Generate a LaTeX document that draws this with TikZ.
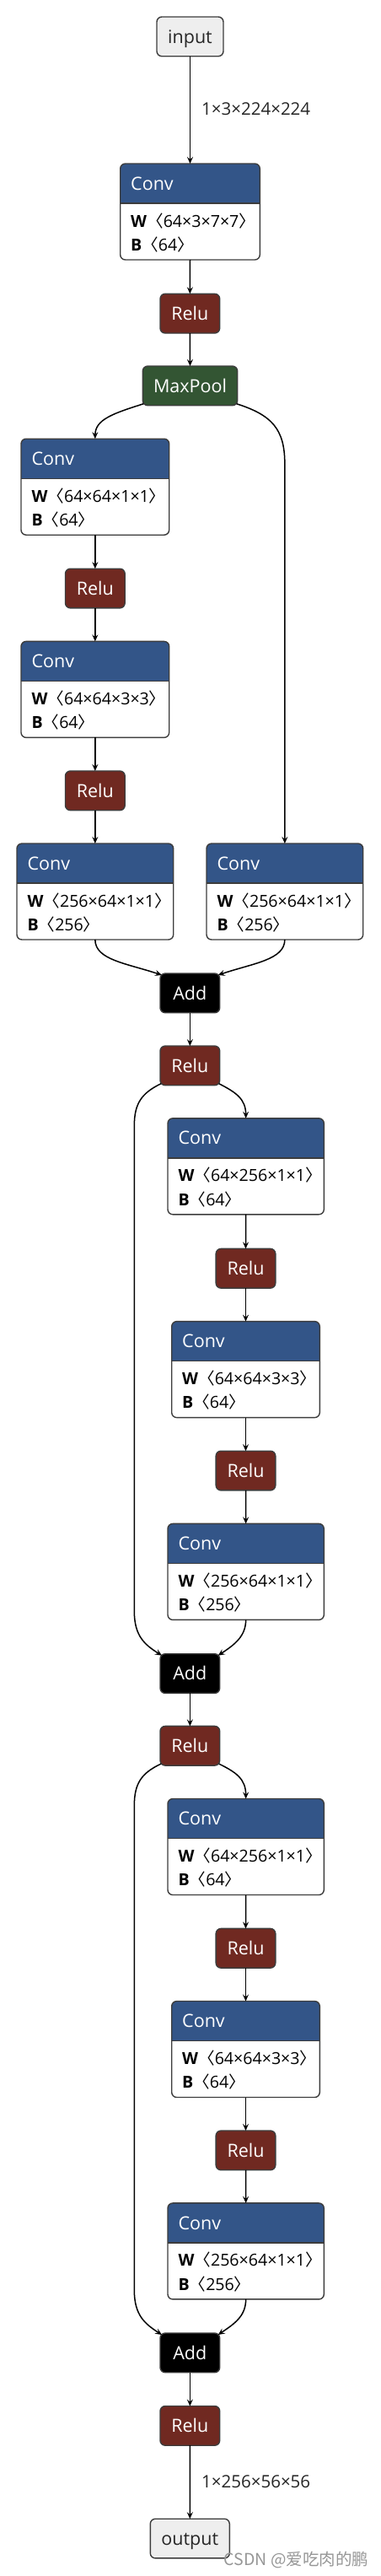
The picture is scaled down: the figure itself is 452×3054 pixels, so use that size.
\documentclass[tikz,border=0pt]{standalone}
\usepackage{fontspec}
\setmainfont{Open Sans}
\newfontfamily\cjk{Noto Sans CJK SC}
\usetikzlibrary{arrows.meta}
\definecolor{convblue}{RGB}{51,85,136}
\definecolor{relured}{RGB}{112,41,33}
\definecolor{poolgreen}{RGB}{51,85,51}
\definecolor{bordercol}{RGB}{60,60,60}
\definecolor{iofill}{RGB}{238,238,238}
\definecolor{wmgray}{RGB}{150,150,150}
\tikzset{
  x={(1pt,0)}, y={(0,-1pt)},
  edge/.style={draw=black, line width=1.5pt, -{Stealth[length=8pt,width=7pt,inset=3pt]}},
  opbox/.style={draw=bordercol, line width=1.4pt, rounded corners=6pt, minimum height=46.7pt,
    outer sep=0pt, inner sep=0pt, text=white, text height=15.3pt, text depth=0pt,
    font=\fontsize{21.5}{25}\selectfont},
  relubox/.style={opbox, fill=relured, minimum width=70.7pt},
  addbox/.style={opbox, fill=black, minimum width=70.7pt},
  poolbox/.style={opbox, fill=poolgreen, minimum width=112.4pt},
  iobox/.style={opbox, fill=iofill, text=black!85},
  convframe/.style={draw=none, minimum height=114pt, inner sep=0pt, outer sep=0pt},
  titletext/.style={inner sep=0pt, text=white, text height=15.3pt, text depth=0pt, font=\fontsize{21.5}{25}\selectfont},
  attrtext/.style={inner sep=0pt, text=black, text height=14pt, text depth=0pt, font=\fontsize{19.6}{23}\selectfont},
  lbl/.style={inner sep=0pt, text=black!85, text height=14.5pt, text depth=0pt, font=\fontsize{20.5}{24}\selectfont},
  wm/.style={inner sep=0pt, text=wmgray, font=\cjk\fontsize{19.5}{23}\selectfont},
}
\newcommand\convnode[6]{%
  \node[convframe, minimum width=#4pt, anchor=north] (#1) at (#2,#3) {};
  \begin{scope}
    \clip[rounded corners=6pt] (#1.north west) rectangle (#1.south east);
    \fill[convblue] (#1.north west) rectangle ([yshift=-47pt]#1.north east);
  \end{scope}
  \draw[bordercol, line width=1.4pt] ([yshift=-47pt]#1.north west) -- ([yshift=-47pt]#1.north east);
  \draw[bordercol, line width=1.4pt, rounded corners=6pt] (#1.north west) rectangle (#1.south east);
  \node[titletext, anchor=west] (#1-t) at ([xshift=12.3pt, yshift=-23.5pt]#1.north west) {Conv};
  \node[attrtext, anchor=west] (#1-w) at ([xshift=12.3pt, yshift=-68pt]#1.north west) {\textbf{W}{\cjk 〈}#5{\cjk 〉}};
  \node[attrtext, anchor=west] (#1-b) at ([xshift=12.3pt, yshift=-96.3pt]#1.north west) {\textbf{B}{\cjk 〈}#6{\cjk 〉}};
}
\begin{document}
\begin{tikzpicture}
\useasboundingbox (0,0) rectangle (452,3054);
% top part
\node[iobox, minimum width=79pt, anchor=north] (in) at (225.5,20) {input};
\convnode{c1}{225.5}{194}{165.6}{64×3×7×7}{64}
\node[relubox, anchor=north] (r1) at (225.35,348.3) {Relu};
\node[poolbox, anchor=north] (mp) at (225.5,434) {MaxPool};
% first bottleneck
\convnode{c2}{112.85}{520.2}{175.7}{64×64×1×1}{64}
\node[relubox, anchor=north] (r2) at (112.85,674.2) {Relu};
\convnode{c3}{112.85}{760.4}{175.7}{64×64×3×3}{64}
\node[relubox, anchor=north] (r3) at (112.85,914) {Relu};
\convnode{c4}{112.85}{1000}{185.7}{256×64×1×1}{256}
\convnode{c5}{337.85}{1000}{185.7}{256×64×1×1}{256}
\node[addbox, anchor=north] (add1) at (225.35,1154) {Add};
% second bottleneck
\node[relubox, anchor=north] (r4) at (225.35,1240) {Relu};
\convnode{c6}{291.65}{1325.8}{185.3}{64×256×1×1}{64}
\node[relubox, anchor=north] (r5) at (291.5,1480.4) {Relu};
\convnode{c7}{291.5}{1566.6}{175.6}{64×64×3×3}{64}
\node[relubox, anchor=north] (r6) at (291.5,1720.2) {Relu};
\convnode{c8}{291.65}{1806.4}{185.3}{256×64×1×1}{256}
\node[addbox, anchor=north] (add2) at (225.35,1960.7) {Add};
% third bottleneck
\node[relubox, anchor=north] (r7) at (225.35,2046.4) {Relu};
\convnode{c9}{291.65}{2132.5}{185.3}{64×256×1×1}{64}
\node[relubox, anchor=north] (r8) at (291.5,2286.4) {Relu};
\convnode{c10}{291.5}{2372.5}{175.6}{64×64×3×3}{64}
\node[relubox, anchor=north] (r9) at (291.5,2526) {Relu};
\convnode{c11}{291.65}{2611.9}{185.3}{256×64×1×1}{256}
\node[addbox, anchor=north] (add3) at (225.35,2766) {Add};
\node[relubox, anchor=north] (r10) at (225.35,2852.5) {Relu};
\node[iobox, minimum width=94pt, anchor=north] (out) at (225.3,2986.2) {output};
% labels
\node[lbl, anchor=west] (l1) at (239,129) {1×3×224×224};
\node[lbl, anchor=west] (l2) at (239,2941.8) {1×256×56×56};
% edges
\draw[edge] (in.south) -- (c1.north);
\draw[edge] (c1.south) -- (r1.north);
\draw[edge] (r1.south) -- (mp.north);
\draw[edge] ([shift={(1pt,2pt)}]mp.south west) .. controls (135,490) and (112.85,497) .. (c2.north);
\draw[edge] ([shift={(-1pt,2pt)}]mp.south east) .. controls (322,492) and (337.85,508) .. (337.85,550) -- (c5.north);
\draw[edge] (c2.south) -- (r2.north);
\draw[edge] (r2.south) -- (c3.north);
\draw[edge] (c3.south) -- (r3.north);
\draw[edge] (r3.south) -- (c4.north);
\draw[edge] (c4.south) .. controls (112.85,1138) and (150,1142) .. ([shift={(2pt,-2pt)}]add1.north west);
\draw[edge] (c5.south) .. controls (337.85,1138) and (300,1142) .. ([shift={(-2pt,-2pt)}]add1.north east);
\draw[edge] (add1.south) -- (r4.north);
\draw[edge] ([shift={(-1pt,2pt)}]r4.south east) .. controls (280,1295) and (291.65,1303) .. (c6.north);
\draw[edge] ([shift={(1pt,2pt)}]r4.south west) .. controls (168,1296) and (159.3,1308) .. (159.3,1335) -- (159.3,1910) .. controls (159.3,1940) and (172,1950) .. ([shift={(2pt,-2pt)}]add2.north west);
\draw[edge] (c6.south) -- (r5.north);
\draw[edge] (r5.south) -- (c7.north);
\draw[edge] (c7.south) -- (r6.north);
\draw[edge] (r6.south) -- (c8.north);
\draw[edge] (c8.south) .. controls (291.65,1940) and (278,1950) .. ([shift={(-2pt,-2pt)}]add2.north east);
\draw[edge] (add2.south) -- (r7.north);
\draw[edge] ([shift={(-1pt,2pt)}]r7.south east) .. controls (280,2101) and (291.65,2109) .. (c9.north);
\draw[edge] ([shift={(1pt,2pt)}]r7.south west) .. controls (168,2102) and (159.3,2114) .. (159.3,2141) -- (159.3,2715) .. controls (159.3,2745) and (172,2755) .. ([shift={(2pt,-2pt)}]add3.north west);
\draw[edge] (c9.south) -- (r8.north);
\draw[edge] (r8.south) -- (c10.north);
\draw[edge] (c10.south) -- (r9.north);
\draw[edge] (r9.south) -- (c11.north);
\draw[edge] (c11.south) .. controls (291.65,2746) and (278,2755) .. ([shift={(-2pt,-2pt)}]add3.north east);
\draw[edge] (add3.south) -- (r10.north);
\draw[edge] (r10.south) -- (out.north);
% watermark
\node[wm, anchor=west] (wmk) at (265.7,3035) {CSDN @爱吃肉的鹏};
\end{tikzpicture}
\end{document}
